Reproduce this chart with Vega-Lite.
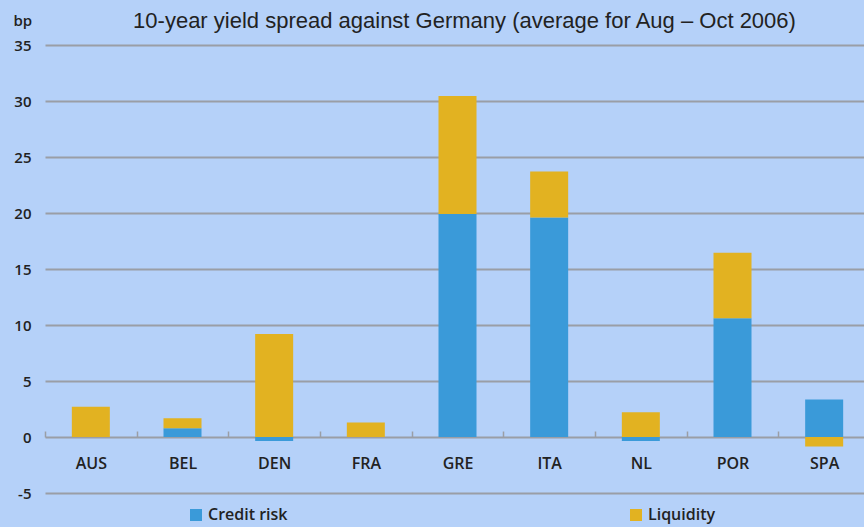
{
  "$schema": "https://vega.github.io/schema/vega-lite/v6.json",
  "width": 819,
  "height": 448,
  "autosize": {"type": "none"},
  "padding": {"left": 45, "top": 45, "right": 0, "bottom": 34},
  "background": "#b5d1f9",
  "config": {"view": {"stroke": null}},
  "title": {
    "text": "10-year yield spread against Germany (average for Aug – Oct 2006)",
    "font": "Liberation Sans",
    "fontSize": 22,
    "fontWeight": "normal",
    "color": "#222222",
    "anchor": "middle",
    "dx": 10,
    "offset": -20
  },
  "data": {
    "values": [
      {"country": "AUS", "type": "Credit risk", "value": 0},
      {"country": "AUS", "type": "Liquidity", "value": 2.7},
      {"country": "BEL", "type": "Credit risk", "value": 0.78},
      {"country": "BEL", "type": "Liquidity", "value": 0.9},
      {"country": "DEN", "type": "Credit risk", "value": -0.35},
      {"country": "DEN", "type": "Liquidity", "value": 9.2},
      {"country": "FRA", "type": "Credit risk", "value": 0},
      {"country": "FRA", "type": "Liquidity", "value": 1.3},
      {"country": "GRE", "type": "Credit risk", "value": 19.9},
      {"country": "GRE", "type": "Liquidity", "value": 10.55},
      {"country": "ITA", "type": "Credit risk", "value": 19.6},
      {"country": "ITA", "type": "Liquidity", "value": 4.1},
      {"country": "NL", "type": "Credit risk", "value": -0.35},
      {"country": "NL", "type": "Liquidity", "value": 2.2},
      {"country": "POR", "type": "Credit risk", "value": 10.6},
      {"country": "POR", "type": "Liquidity", "value": 5.85},
      {"country": "SPA", "type": "Credit risk", "value": 3.35},
      {"country": "SPA", "type": "Liquidity", "value": -0.85}
    ]
  },
  "mark": {"type": "bar", "width": 38},
  "encoding": {
    "x": {
      "field": "country",
      "type": "nominal",
      "sort": null,
      "scale": {"range": [0, 825], "paddingInner": 0, "paddingOuter": 0},
      "axis": {
        "title": null,
        "offset": -56,
        "domain": false,
        "tickBand": "extent",
        "tickSize": -6,
        "tickColor": "#9a9ea6",
        "tickWidth": 1.5,
        "labelAngle": 0,
        "labelPadding": 24,
        "labelFont": "Open Sans",
        "labelFontWeight": 600,
        "labelFontSize": 16,
        "labelColor": "#222222",
        "grid": false
      }
    },
    "y": {
      "field": "value",
      "type": "quantitative",
      "stack": "zero",
      "scale": {"domain": [-5, 35], "nice": false, "zero": false},
      "axis": {
        "values": [-5, 0, 5, 10, 15, 20, 25, 30, 35],
        "labelExpr": "toString(datum.value)",
        "domain": false,
        "ticks": false,
        "grid": true,
        "gridColor": "#9a9ea6",
        "gridWidth": 1.8,
        "labelPadding": 14,
        "labelFont": "Open Sans",
        "labelFontWeight": 600,
        "labelFontSize": 15,
        "labelColor": "#222222",
        "title": "bp",
        "titleAngle": 0,
        "titleAlign": "left",
        "titleBaseline": "middle",
        "titleX": -32,
        "titleY": -25,
        "titleFont": "Open Sans",
        "titleFontWeight": 600,
        "titleFontSize": 15,
        "titleColor": "#222222"
      }
    },
    "order": {"field": "type", "sort": "ascending"},
    "color": {
      "field": "type",
      "type": "nominal",
      "scale": {"domain": ["Credit risk", "Liquidity"], "range": ["#3a9ad9", "#e2b221"]},
      "legend": {
        "title": null,
        "orient": "none",
        "legendX": 143,
        "legendY": 462,
        "direction": "horizontal",
        "symbolType": "square",
        "symbolSize": 144,
        "symbolStrokeWidth": 0,
        "labelFont": "Open Sans",
        "labelFontWeight": 600,
        "labelFontSize": 16,
        "labelColor": "#222222",
        "labelOffset": 4,
        "columnPadding": 340
      }
    }
  }
}
